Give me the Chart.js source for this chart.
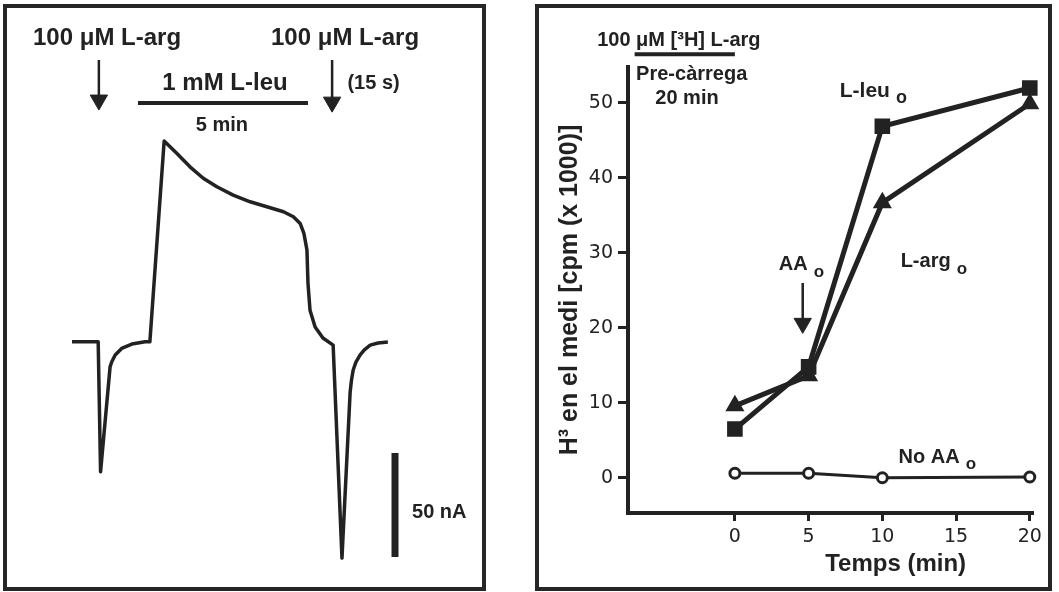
<!DOCTYPE html>
<html>
<head>
<meta charset="utf-8">
<script src="https://cdn.jsdelivr.net/npm/chart.js@4.4.0/dist/chart.umd.min.js"></script>
<style>
  html, body { margin: 0; padding: 0; background: #fff; }
  body { width: 1059px; height: 592px; position: relative; overflow: hidden; }
  canvas { position: absolute; top: 0; }
  #traceChart { left: 0; }
  #releaseChart { left: 530px; }
  .frame { position: absolute; border: 4px solid #262626; box-sizing: border-box; pointer-events: none; }
  #frameLeft { left: 3px; top: 4px; width: 483px; height: 587px; }
  #frameRight { left: 535px; top: 4px; width: 517px; height: 587px; }
</style>
</head>
<body>
<canvas id="traceChart" width="530" height="592"></canvas>
<canvas id="releaseChart" width="529" height="592"></canvas>
<div class="frame" id="frameLeft"></div>
<div class="frame" id="frameRight"></div>
<script>
// ---- left panel: membrane current trace (min, nA) ----
const traceTime = [0, 0.77, 0.84, 1.12, 1.17, 1.27, 1.46, 1.76, 2.15, 2.29,
  2.71, 3.08, 3.47, 3.86, 4.26, 4.74, 5.24, 5.73, 6.22, 6.51, 6.71, 6.82, 6.91, 6.94, 7.0, 7.15, 7.38, 7.68,
  7.94, 8.18, 8.22, 8.27, 8.35, 8.47, 8.59, 8.77, 9.0, 9.29];
const traceCurrent = [0, 0, -62.5, -12.0, -9.6, -6.4, -3.2, -1.1, 0, 0,
  96.5, 90.6, 84.1, 78.6, 74.5, 70.5, 67.3, 64.9, 62.5, 60.1, 56.9, 52.1, 44.1, 28.2, 15.2, 7.1, 1.8, -1.6,
  -104.0, -24.2, -18.4, -13.6, -9.8, -6.4, -4.0, -1.6, -0.6, -0.1];
const argPulses = [0.79, 7.65];      // 100 uM L-arg applications
const leuPeriod = [1.94, 6.94];      // 1 mM L-leu, 5 min
const scaleBarNA = [-53.5, -103.5];  // 50 nA

// ---- right panel: [3H] release ----
const timeMin = [0, 5, 10, 20];
const leuRelease = [6.5, 14.8, 46.9, 52.0];
const argRelease = [9.6, 13.6, 36.7, 49.9];
const noAARelease = [0.6, 0.6, 0.0, 0.1];
const preloadPeriod = [-6.8, 0];
const aaArrowTime = 4.6;
const timeTicks = [0, 5, 10, 15, 20];
const cpmTicks = [0, 10, 20, 30, 40, 50];

const ink = '#222';
const labelFont = '"Liberation Sans", Arial, sans-serif';
Chart.defaults.font.family = '"DejaVu Sans", sans-serif';
Chart.defaults.color = ink;

const pts = (xs, ys) => xs.map((x, i) => ({x: x, y: ys[i]}));

const textPlugin = {
  id: 'panelText',
  afterDatasetsDraw(chart, args, opts) {
    const {ctx, scales: {x, y}} = chart;
    ctx.save();
    ctx.fillStyle = ink;
    ctx.textBaseline = 'middle';
    opts.labels.forEach(l => {
      ctx.font = 'bold ' + l.size + 'px ' + labelFont;
      ctx.textAlign = l.align || 'left';
      const px = x.getPixelForValue(l.x);
      const py = y.getPixelForValue(l.y);
      ctx.fillText(l.text, px, py);
      if (l.sub) {
        const w = ctx.measureText(l.text).width;
        ctx.font = 'bold ' + (l.size - 3) + 'px ' + labelFont;
        ctx.textAlign = 'left';
        ctx.fillText(l.sub, px + w + 6, py + 7);
      }
    });
    ctx.restore();
  }
};

function arrow(xv, yTop, yHead, radius) {
  return {
    data: [{x: xv, y: yTop}, {x: xv, y: yHead}],
    borderColor: ink, backgroundColor: ink, borderWidth: 2.5,
    pointRadius: [0, radius], pointStyle: 'triangle', pointRotation: 180,
    pointBorderWidth: 1, clip: false
  };
}

new Chart(document.getElementById('traceChart'), {
  type: 'line',
  data: {
    datasets: [
      { data: pts(traceTime, traceCurrent), borderColor: ink, borderWidth: 3.5, pointRadius: 0, tension: 0,
        borderJoinStyle: 'round' },
      { data: pts(leuPeriod, [114.8, 114.8]), borderColor: ink, borderWidth: 4, pointRadius: 0 },
      { data: pts([9.5, 9.5], scaleBarNA), borderColor: ink, borderWidth: 7, pointRadius: 0 },
      arrow(argPulses[0], 135.4, 116.2, 10),
      arrow(argPulses[1], 135.4, 115.2, 10)
    ]
  },
  options: {
    responsive: false,
    animation: false,
    layout: { padding: 0, autoPadding: false },
    scales: {
      x: { type: 'linear', display: false, min: -2.1176, max: 13.47 },
      y: { type: 'linear', display: false, min: -120.3, max: 164.3 }
    },
    plugins: {
      legend: { display: false },
      tooltip: { enabled: false },
      panelText: {
        labels: [
          { text: '100 μM L-arg', x: 1.03, y: 146, size: 24, align: 'center' },
          { text: '100 μM L-arg', x: 8.03, y: 146, size: 24, align: 'center' },
          { text: '1 mM L-leu', x: 4.5, y: 124, size: 24, align: 'center' },
          { text: '(15 s)', x: 8.1, y: 124, size: 20 },
          { text: '5 min', x: 4.41, y: 104.2, size: 20, align: 'center' },
          { text: '50 nA', x: 10.0, y: -82, size: 20 }
        ]
      }
    }
  },
  plugins: [textPlugin]
});

new Chart(document.getElementById('releaseChart'), {
  type: 'line',
  data: {
    datasets: [
      { label: 'No AA', data: pts(timeMin, noAARelease), borderColor: ink, borderWidth: 3,
        pointStyle: 'circle', pointRadius: 5, pointBorderWidth: 3, pointBackgroundColor: '#fff', pointBorderColor: ink, clip: false },
      { label: 'L-arg', data: pts(timeMin, argRelease), borderColor: ink, borderWidth: 5,
        pointStyle: 'triangle', pointRadius: 6, pointBackgroundColor: ink, pointBorderColor: ink, clip: false },
      { label: 'L-leu', data: pts(timeMin, leuRelease), borderColor: ink, borderWidth: 5,
        pointStyle: 'rect', pointRadius: 7.5, pointBackgroundColor: ink, pointBorderColor: ink, clip: false },
      { data: pts(preloadPeriod, [56.5, 56.5]), borderColor: ink, borderWidth: 4, pointRadius: 0, clip: false },
      arrow(aaArrowTime, 26.0, 20.6, 10)
    ]
  },
  options: {
    responsive: false,
    animation: false,
    layout: { padding: { left: 0, right: 27, top: 67, bottom: 0 }, autoPadding: false },
    scales: {
      x: {
        type: 'linear', min: -7.25, max: 20.15,
        afterBuildTicks: s => { s.ticks = timeTicks.map(v => ({value: v})); },
        afterFit: s => { s.height = 79; },
        grid: { drawOnChartArea: false, tickLength: 8, tickWidth: 3, lineWidth: 3, tickColor: ink, color: ink },
        border: { display: true, width: 4, color: ink },
        ticks: { color: ink, font: { size: 19 }, padding: 5, maxRotation: 0 }
      },
      y: {
        type: 'linear', min: -4.7, max: 54.8,
        afterBuildTicks: s => { s.ticks = cpmTicks.map(v => ({value: v})); },
        afterFit: s => { s.width = 98; },
        grid: { drawOnChartArea: false, tickLength: 10, tickWidth: 3, lineWidth: 3, tickColor: ink, color: ink },
        border: { display: true, width: 4, color: ink },
        ticks: { color: ink, font: { size: 19 }, padding: 5 },
        title: {
          display: true, text: 'H³ en el medi [cpm (x 1000)]', color: ink,
          font: { size: 25, weight: 'bold', family: labelFont }, padding: { top: 25, bottom: 0 }
        }
      }
    },
    plugins: {
      legend: { display: false },
      tooltip: { enabled: false },
      panelText: {
        labels: [
          { text: '100 μM [³H] L-arg', x: -9.34, y: 58.4, size: 20 },
          { text: 'Pre-càrrega', x: -6.7, y: 53.8, size: 20 },
          { text: '20 min', x: -3.25, y: 50.6, size: 20, align: 'center' },
          { text: 'L-leu', x: 7.11, y: 51.6, size: 21, sub: 'o' },
          { text: 'L-arg', x: 11.24, y: 28.8, size: 20, sub: 'o' },
          { text: 'AA', x: 2.98, y: 28.4, size: 20, sub: 'o' },
          { text: 'No AA', x: 11.1, y: 2.76, size: 20, sub: 'o' },
          { text: 'Temps (min)', x: 10.9, y: -11.6, size: 24, align: 'center' }
        ]
      }
    }
  },
  plugins: [textPlugin]
});
</script>
</body>
</html>
